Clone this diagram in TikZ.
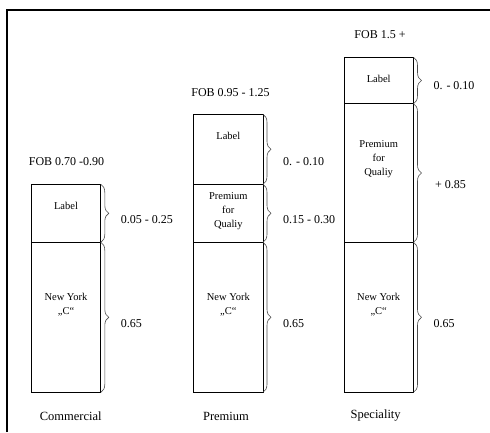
\documentclass[tikz,border=0pt]{standalone}
\usepackage{fontspec}
\setmainfont{Liberation Serif}
\usetikzlibrary{decorations.pathreplacing}
\begin{document}
\begin{tikzpicture}[x=1pt,y=-1pt,
  seg/.style={draw, line width=0.8pt, minimum width=69.5pt, inner sep=0pt, outer sep=0pt, anchor=north west},
  brc/.style={draw=black!70, line width=0.6pt, decorate, decoration={brace, amplitude=8pt}},
  boxtxt/.style={font=\fontsize{10.5}{14}\selectfont, align=center, inner sep=0pt},
  val/.style={font=\fontsize{12}{13}\selectfont, anchor=west, inner sep=0pt},
  head/.style={font=\fontsize{12}{13}\selectfont, inner sep=0pt},
  foot/.style={font=\fontsize{12.5}{13}\selectfont, inner sep=0pt}]
\useasboundingbox (0,0) rectangle (490,432);
% frame
\draw[line width=1.2pt] (7,432) -- (7,10) -- (490,10);
% Commercial
\node[seg, minimum height=58pt] (c1) at (31.3,184.3) {};
\node[seg, minimum height=150pt] (c2) at (31.3,242.3) {};
\node[boxtxt] (c1t) at (66,205.7) {Label};
\node[boxtxt] (c2t) at (66,305) {New York\\„C“};
\draw[brc] (c1.north east) -- (c1.south east);
\draw[brc] (c2.north east) -- (c2.south east);
\node[val] (c1v) at (120.7,219.7) {0.05 - 0.25};
\node[val] (c2v) at (120.7,323.7) {0.65};
\node[head] (ch) at (66.5,162) {FOB 0.70 -0.90};
\node[foot] (cf) at (70.7,416) {Commercial};
% Premium
\node[seg, minimum height=70pt] (p1) at (193.5,114.3) {};
\node[seg, minimum height=58pt] (p2) at (193.5,184.3) {};
\node[seg, minimum height=150pt] (p3) at (193.5,242.3) {};
\node[boxtxt] (p1t) at (228.3,136.3) {Label};
\node[boxtxt] (p2t) at (228.3,211.3) {Premium\\for\\Qualiy};
\node[boxtxt] (p3t) at (228.3,305) {New York\\„C“};
\draw[brc] (p1.north east) -- (p1.south east);
\draw[brc] (p2.north east) -- (p2.south east);
\draw[brc] (p3.north east) -- (p3.south east);
\node[val] (p1v) at (283,162) {0. - 0.10};
\node[val] (p2v) at (283,219.7) {0.15 - 0.30};
\node[val] (p3v) at (283,323.7) {0.65};
\node[head] (ph) at (230.5,92.7) {FOB 0.95 - 1.25};
\node[foot] (pf) at (226,416) {Premium};
% Speciality
\node[seg, minimum height=46.4pt] (s1) at (344,57.3) {};
\node[seg, minimum height=138.6pt] (s2) at (344,103.7) {};
\node[seg, minimum height=150pt] (s3) at (344,242.3) {};
\node[boxtxt] (s1t) at (378.7,78.7) {Label};
\node[boxtxt] (s2t) at (378.7,159.5) {Premium\\for\\Qualiy};
\node[boxtxt] (s3t) at (378.7,305) {New York\\„C“};
\draw[brc] (s1.north east) -- (s1.south east);
\draw[brc] (s2.north east) -- (s2.south east);
\draw[brc] (s3.north east) -- (s3.south east);
\node[val] (s1v) at (433.3,86) {0. - 0.10};
\node[val] (s2v) at (435,185) {+ 0.85};
\node[val] (s3v) at (433.3,323.7) {0.65};
\node[head] (sh) at (380,34.7) {FOB 1.5 +};
\node[foot] (sf) at (375.7,416) {Speciality};
\end{tikzpicture}
\end{document}
